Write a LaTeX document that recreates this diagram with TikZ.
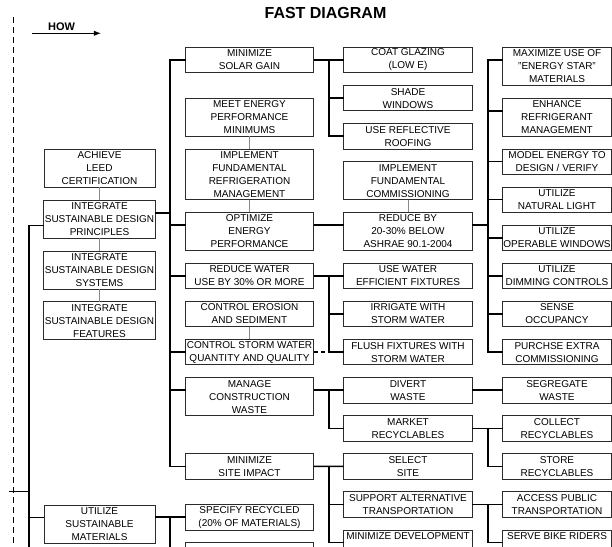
\documentclass[tikz,border=0pt]{standalone}
\usepackage{fontspec}
\setmainfont{Liberation Sans}
\usetikzlibrary{arrows.meta,positioning}
\definecolor{boxline}{HTML}{2B2B2B}
\definecolor{linkgray}{HTML}{8A8A8A}
\setlength{\fboxsep}{1.2pt}
\newcommand{\gapline}[1]{\colorbox{white}{#1}}

\begin{document}
\begin{tikzpicture}[x=1pt, y=-1pt, node distance=12.7pt, every node/.style={font=\fontsize{10}{13}\selectfont,align=center}, box/.style={draw=boxline,line width=0.8pt,fill=white,inner sep=0pt,outer sep=0pt}, colA/.style={minimum width=111pt}, colB/.style={minimum width=128pt}, colC/.style={minimum width=128.6pt}, colD/.style={minimum width=109pt}, row2/.style={minimum height=25.4pt}, row3/.style={minimum height=38.1pt}, row4/.style={minimum height=50.8pt}, link/.style={line width=1.5pt}, thinlink/.style={draw=linkgray,line width=0.7pt}, dashline/.style={line width=1.2pt,dash pattern=on 6pt off 4pt}, >=Latex]
\useasboundingbox (0,0) rectangle (612,546);
\clip (0,0) rectangle (612,546);
\node[font=\bfseries\fontsize{16}{18}\selectfont] (title) at (325.5,12.5) {FAST DIAGRAM};
\node[font=\bfseries\fontsize{11}{13}\selectfont] (how) at (61.5,26.5) {HOW};
\coordinate (howA) at (32,33.3); \coordinate (howB) at (101,33.3);
\coordinate (scopetop) at (13.3,17); \coordinate (bottom) at (0,560); \coordinate (tick) at (9,491.7);
\coordinate (sp1) at (29,0); \coordinate (sp2) at (170,0); \coordinate (sp3) at (329,0); \coordinate (sp4) at (488,0);
\node[box,colA,row3,anchor=north west] (achieve) at (44,149.3) {ACHIEVE\\LEED\\CERTIFICATION};
\node[box,colA,row3,below=of achieve] (principles) {INTEGRATE\\\gapline{SUSTAINABLE DESIGN}\\PRINCIPLES};
\node[box,colA,row3,below=of principles] (systems) {INTEGRATE\\\gapline{SUSTAINABLE DESIGN}\\SYSTEMS};
\node[box,colA,row3,below=of systems] (features) {INTEGRATE\\\gapline{SUSTAINABLE DESIGN}\\FEATURES};
\node[box,colA,row3,below=165.1pt of features] (utilmat) {UTILIZE\\SUSTAINABLE\\MATERIALS};
\node[box,colB,row2,anchor=north west] (minsolar) at (185.5,47.3) {MINIMIZE\\SOLAR GAIN};
\node[box,colB,row3,below=25.4pt of minsolar] (meet) {MEET ENERGY\\PERFORMANCE\\MINIMUMS};
\node[box,colB,row4,below=of meet] (implref) {IMPLEMENT\\FUNDAMENTAL\\REFRIGERATION\\MANAGEMENT};
\node[box,colB,row3,below=of implref] (optimize) {OPTIMIZE\\ENERGY\\PERFORMANCE};
\node[box,colB,row2,below=of optimize] (reducewater) {REDUCE WATER\\USE BY 30\% OR MORE};
\node[box,colB,row2,below=of reducewater] (erosion) {CONTROL EROSION\\AND SEDIMENT};
\node[box,colB,row2,below=of erosion] (storm) {CONTROL STORM WATER\\QUANTITY AND QUALITY};
\node[box,colB,row3,below=of storm] (manage) {MANAGE\\CONSTRUCTION\\WASTE};
\node[box,colB,row2,below=38.1pt of manage] (minsite) {MINIMIZE\\SITE IMPACT};
\node[box,colB,row2,below=25.4pt of minsite] (specify) {SPECIFY RECYCLED\\(20\% OF MATERIALS)};
\node[box,colB,row2,below=of specify] (nextmat) {};
\node[box,colC,row2,anchor=north west] (coat) at (343.7,47.3) {COAT GLAZING\\(LOW E)};
\node[box,colC,row2,below=of coat] (shade) {SHADE\\WINDOWS};
\node[box,colC,row2,below=of shade] (roof) {USE REFLECTIVE\\ROOFING};
\node[box,colC,row3,below=of roof] (commiss) {IMPLEMENT\\FUNDAMENTAL\\COMMISSIONING};
\node[box,colC,row3,below=of commiss] (reduceby) {REDUCE BY\\20-30\% BELOW\\ASHRAE 90.1-2004};
\node[box,colC,row2,below=of reduceby] (usewater) {USE WATER\\EFFICIENT FIXTURES};
\node[box,colC,row2,below=of usewater] (irrigate) {IRRIGATE WITH\\STORM WATER};
\node[box,colC,row2,below=of irrigate] (flush) {FLUSH FIXTURES WITH\\STORM WATER};
\node[box,colC,row2,below=of flush] (divert) {DIVERT\\WASTE};
\node[box,colC,row2,below=of divert] (market) {MARKET\\RECYCLABLES};
\node[box,colC,row2,below=of market] (select) {SELECT\\SITE};
\node[box,colC,row2,below=of select] (support) {SUPPORT ALTERNATIVE\\TRANSPORTATION};
\node[box,colC,row2,below=of support] (mindev) {MINIMIZE DEVELOPMENT\\\mbox{}};
\node[box,colD,row3,anchor=north west] (maximize) at (502.5,47.3) {MAXIMIZE USE OF\\"ENERGY STAR"\\MATERIALS};
\node[box,colD,row3,below=of maximize] (enhance) {ENHANCE\\REFRIGERANT\\MANAGEMENT};
\node[box,colD,row2,below=of enhance] (model) {MODEL ENERGY TO\\DESIGN / VERIFY};
\node[box,colD,row2,below=of model] (natlight) {UTILIZE\\NATURAL LIGHT};
\node[box,colD,row2,below=of natlight] (operable) {UTILIZE\\OPERABLE WINDOWS};
\node[box,colD,row2,below=of operable] (dimming) {UTILIZE\\DIMMING CONTROLS};
\node[box,colD,row2,below=of dimming] (sense) {SENSE\\OCCUPANCY};
\node[box,colD,row2,below=of sense] (purchse) {PURCHSE EXTRA\\COMMISSIONING};
\node[box,colD,row2,below=of purchse] (segregate) {SEGREGATE\\WASTE};
\node[box,colD,row2,below=of segregate] (collect) {COLLECT\\RECYCLABLES};
\node[box,colD,row2,below=of collect] (store) {STORE\\RECYCLABLES};
\node[box,colD,row2,below=of store] (access) {ACCESS PUBLIC\\TRANSPORTATION};
\node[box,colD,row2,below=of access] (bike) {SERVE BIKE RIDERS\\\mbox{}};
\draw[dashline] (scopetop) -- (scopetop |- bottom);\draw[->,line width=0.9pt] (howA) -- (howB);\draw[line width=0.8pt] (tick) -- (tick -| sp1);
\draw[thinlink] (achieve)--(principles);\draw[thinlink] (principles)--(systems);\draw[thinlink] (systems)--(features);\draw[thinlink] (meet)--(implref);\draw[thinlink] (implref)--(optimize);\draw[thinlink] (erosion)--(storm);\draw[thinlink] (commiss)--(reduceby);
\draw[link] ([yshift=-6.35pt]principles.west) -| (sp1 |- bottom);\draw[link] ([yshift=6.35pt]utilmat.west) -- ([yshift=6.35pt]utilmat.west -| sp1);
\draw[link] (minsolar.west) -- (minsolar.west -| sp2) -- (minsite.west -| sp2) -- (minsite.west);
\draw[link] ([yshift=6.35pt]principles.east) -- ([yshift=6.35pt]principles.east -| sp2);\draw[link] ([yshift=6.35pt]optimize.west) -- ([yshift=6.35pt]optimize.west -| sp2);
\draw[link] (reducewater.west) -- (reducewater.west -| sp2);\draw[link] (storm.west) -- (storm.west -| sp2);\draw[link] ([yshift=6.35pt]manage.west) -- ([yshift=6.35pt]manage.west -| sp2);
\draw[link] (specify.west -| utilmat.east) -- (specify.west);\draw[link] (specify.west -| sp2) -- (sp2 |- bottom);
\draw[link] (minsolar.east) -- (coat.west);\draw[link] (shade.west) -| (sp3 |- coat.west);\draw[link] (roof.west) -| (sp3 |- coat.west);
\draw[link] ([yshift=6.35pt]optimize.east) -- ([yshift=6.35pt]reduceby.west);
\draw[link] (reducewater.east) -- (usewater.west);\draw[link] (irrigate.west) -| (sp3 |- usewater.west);\draw[link] (flush.west) -| (sp3 |- usewater.west);
\draw[link,dash pattern=on 4pt off 3pt] (storm.east) -- (storm.east -| sp3);
\draw[link] (divert.west -| manage.east) -- (divert.west);\draw[link] (market.west) -| (sp3 |- divert.west);
\draw[link] (minsite.east) -- (select.west);\draw[link] (support.west) -| (sp3 |- select.west);\draw[link] (mindev.west) -| (sp3 |- select.west);
\draw[link] ([yshift=6.35pt]maximize.west) -| (sp4 |- purchse.west) -- (purchse.west);\draw[link] ([yshift=6.35pt]enhance.west) -- ([yshift=6.35pt]enhance.west -| sp4);
\draw[link] (model.west) -- (model.west -| sp4);\draw[link] (natlight.west) -- (natlight.west -| sp4);\draw[link] (operable.west) -- (operable.west -| sp4);\draw[link] (dimming.west) -- (dimming.west -| sp4);\draw[link] (sense.west) -- (sense.west -| sp4);
\draw[link] ([yshift=6.35pt]reduceby.east) -- ([yshift=6.35pt]reduceby.east -| sp4);
\draw[link] (divert.east) -- (segregate.west);
\draw[link] (market.east) -- (collect.west);\draw[link] (store.west) -| (sp4 |- collect.west);
\draw[link] (support.east) -- (access.west);\draw[link] (bike.west) -| (sp4 |- access.west);
\end{tikzpicture}
\end{document}
